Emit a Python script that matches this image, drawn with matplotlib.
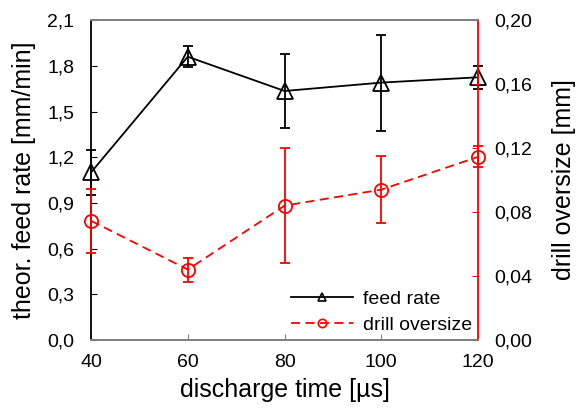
import numpy as np
import matplotlib
matplotlib.use("Agg")
import matplotlib.pyplot as plt
from matplotlib.lines import Line2D

plt.rcParams['font.family'] = ['Liberation Sans', 'DejaVu Sans']

# data
discharge_time = [40, 60, 80, 100, 120]
feed_rate = [1.10, 1.86, 1.635, 1.69, 1.725]
feed_err = [0.15, 0.07, 0.245, 0.315, 0.075]
oversize = [0.0745, 0.044, 0.084, 0.094, 0.1145]
oversize_err = [0.02, 0.0075, 0.036, 0.021, 0.0065]

left_ticks = [0.0, 0.3, 0.6, 0.9, 1.2, 1.5, 1.8, 2.1]
right_ticks = [0.0, 0.04, 0.08, 0.12, 0.16, 0.20]
x_ticks = [40, 60, 80, 100, 120]

fig = plt.figure(figsize=(5.76, 4.12), dpi=100)
ax = fig.add_axes([0.158, 0.175, 0.672, 0.776])
ax2 = ax.twinx()

### feed rate
ax.errorbar(discharge_time, feed_rate, yerr=feed_err, color='black', lw=1.3,
            marker='^', ms=12, mfc='none', mec='black', mew=1.3,
            capsize=3.5, elinewidth=1.3, capthick=1.3, clip_on=False, zorder=5)
### drill oversize
eb = ax2.errorbar(discharge_time, oversize, yerr=oversize_err, color='red', lw=1.3,
                  ls=(0, (5, 3)), marker='o', ms=9.5, mfc='none', mec='red', mew=1.3,
                  capsize=3.5, elinewidth=1.3, capthick=1.3, clip_on=False, zorder=5)
eb[-1][0].set_linestyle('-')

# axes
ax.set_xlim(40, 120)
ax.set_ylim(0, 2.1)
ax2.set_ylim(0, 0.2)
ax.set_xticks(x_ticks)
ax.set_yticks(left_ticks)
ax.set_yticklabels([f"{v:.1f}".replace('.', ',') for v in left_ticks])
ax2.set_yticks(right_ticks)
ax2.set_yticklabels([f"{v:.2f}".replace('.', ',') for v in right_ticks])

ax.tick_params(axis='both', direction='in', labelsize=14, length=4)
ax.tick_params(axis='x', colors='gray', labelcolor='black', pad=10)
ax.tick_params(axis='y', color='black', pad=12)
ax2.tick_params(axis='y', direction='in', color='red', labelcolor='black',
                labelsize=14, length=4, pad=12)

for a in (ax, ax2):
    a.spines['top'].set_color('gray')
    a.spines['bottom'].set_color('gray')
    a.spines['left'].set_color('black')
    a.spines['right'].set_color('red')
    for s in a.spines.values():
        s.set_linewidth(1.3)
ax.spines['right'].set_visible(False)
ax2.spines['left'].set_visible(False)

ax.set_xlabel('discharge time [µs]', fontsize=18, labelpad=5)
ax.set_ylabel('theor. feed rate [mm/min]', fontsize=18, labelpad=8)
ax2.set_ylabel('drill oversize [mm]', fontsize=18, labelpad=14)

# legend without error bars
h1 = Line2D([], [], color='black', lw=1.3, marker='^', ms=6, mfc='none', mew=1.2)
h2 = Line2D([], [], color='red', lw=1.3, ls=(0, (5, 3)), marker='o', ms=6,
            mfc='none', mew=1.2)
ax2.legend([h1, h2], ['feed rate', 'drill oversize'], loc='lower right',
           frameon=False, fontsize=14, handlelength=3.2, handletextpad=0.5,
           labelspacing=0.45, borderpad=0.1, borderaxespad=0.2)

fig.savefig('out.png', dpi=100)
